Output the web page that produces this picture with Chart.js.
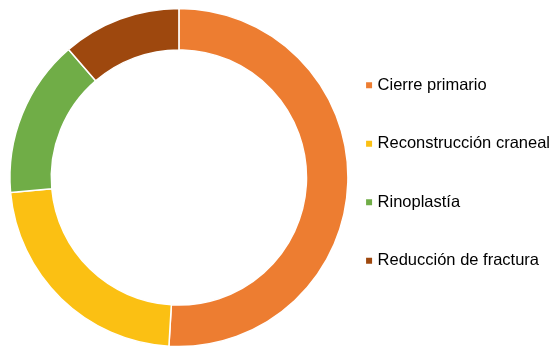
<!DOCTYPE html>
<html>
<head>
<meta charset="utf-8">
<script src="https://cdn.jsdelivr.net/npm/chart.js@4"></script>
<style>
    html, body { margin: 0; padding: 0; background: #fff; }
    #procChart { display: block; }
</style>
</head>
<body>
<canvas id="procChart" width="551" height="346"></canvas>
<script>
// Procedures performed
const categories = ['Cierre primario', 'Reconstrucción craneal', 'Rinoplastía', 'Reducción de fractura'];
const cases = [27, 12, 8, 6];
const sliceColors = ['#ED7D31', '#FBC013', '#70AD47', '#9E480E'];

function createProcChart() {
    const ctx = document.getElementById('procChart').getContext('2d');

    new Chart(ctx, {
        type: 'doughnut',
        data: {
            labels: categories,
            datasets: [{
                data: cases,
                backgroundColor: sliceColors,
                borderColor: '#ffffff',
                borderWidth: 1.5
            }]
        },
        options: {
            responsive: false,
            animation: false,
            devicePixelRatio: 1,
            radius: 169,
            cutout: '75.5%',
            layout: {
                // legend reserves a bit more width than its text needs, pull it right
                padding: { left: 31, right: -9, top: 0, bottom: 0 }
            },
            plugins: {
                // empty title only pushes the ring down a bit, legend keeps full height
                title: {
                    display: true,
                    text: '',
                    padding: 0,
                    font: { size: 9, lineHeight: 1 }
                },
                tooltip: { enabled: false },
                legend: {
                    position: 'right',
                    labels: {
                        usePointStyle: true,
                        pointStyle: 'rect',
                        boxWidth: 0.5,
                        boxHeight: 6,
                        padding: 42,
                        color: '#000000',
                        font: { family: '"Liberation Sans", Arial, sans-serif', size: 16.5 },
                        generateLabels: () => categories.map((label, i) => ({
                            text: label,
                            fillStyle: sliceColors[i],
                            strokeStyle: sliceColors[i],
                            lineWidth: 0,
                            pointStyle: 'rect',
                            hidden: false,
                            index: i
                        }))
                    }
                }
            }
        }
    });
}

window.onload = createProcChart;
</script>
</body>
</html>
